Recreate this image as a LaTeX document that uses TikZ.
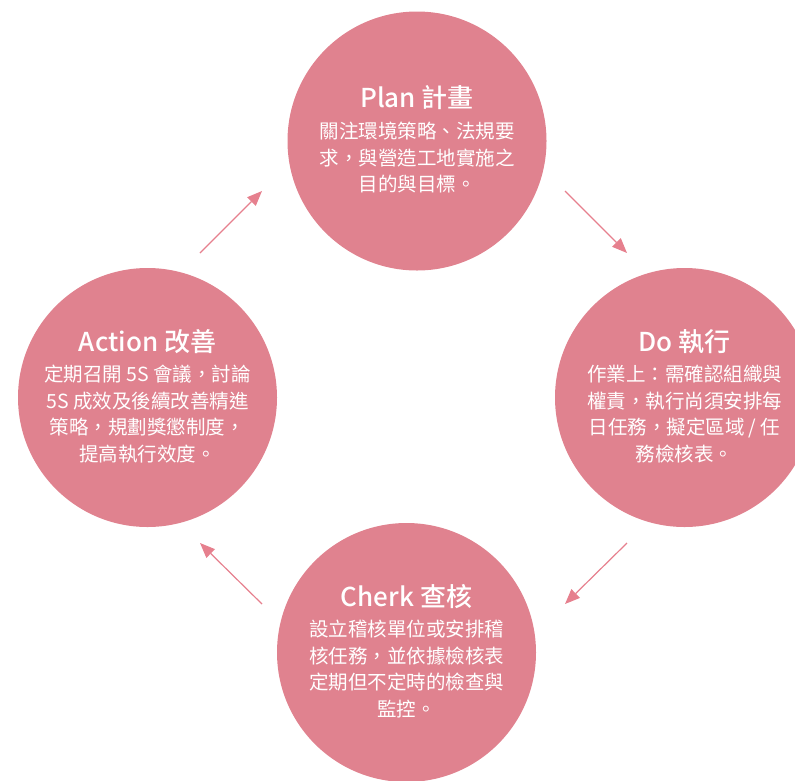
\documentclass[tikz,border=0pt]{standalone}
\usepackage{fontspec}
\setmainfont{Noto Sans CJK TC}
\newfontfamily\ttlfont{Noto Sans CJK TC Medium}
\usetikzlibrary{arrows.meta}
\definecolor{pdca}{HTML}{E0828F}
\definecolor{pdcaarrow}{HTML}{E6808E}
\begin{document}
\begin{tikzpicture}[x=1pt,y=-1pt,
  phase/.style={circle,fill=pdca,minimum size=259pt,inner sep=0pt},
  ttl/.style={text=white,font=\fontsize{26}{31}\selectfont\ttlfont,inner sep=0pt},
  body/.style={text=white,align=center,font=\fontsize{19.5}{26.5}\selectfont,inner sep=0pt},
  flow/.style={draw=pdcaarrow,line width=1.2pt,-{Triangle[length=15pt,width=12pt]}}]
\useasboundingbox (0,0) rectangle (795,780);
\clip (0,0) rectangle (795,780);
% circles
\node[phase] (plan) at (417,141) {};
\node[phase] (do) at (684.5,397.5) {};
\node[phase] (check) at (406.5,652.5) {};
\node[phase] (act) at (147.5,397.5) {};
% texts
\node[ttl] (plant) at (417,98) {Plan 計畫};
\node[body] (planb) at (417,157.5) {關注環境策略、法規要\\求，與營造工地實施之\\目的與目標。};
\node[ttl] (dot) at (684.5,341.25) {Do 執行};
\node[body] (dob) at (684.5,414) {作業上：需確認組織與\\權責，執行尚須安排每\\日任務，擬定區域 / 任\\務檢核表。};
\node[ttl] (checkt) at (406.5,596.25) {Cherk 查核};
\node[body] (checkb) at (406.5,669) {設立稽核單位或安排稽\\核任務，並依據檢核表\\定期但不定時的檢查與\\監控。};
\node[ttl] (actt) at (147.5,341.25) {Action 改善};
\node[body] (actb) at (147.5,414) {定期召開 5S 會議，討論\\5S 成效及後續改善精進\\策略，規劃獎懲制度，\\提高執行效度。};
% arrows
\coordinate (a1s) at (200,253); \coordinate (a1e) at (262,191);
\coordinate (a2s) at (565,191); \coordinate (a2e) at (627,253);
\coordinate (a3s) at (627,543); \coordinate (a3e) at (565,604);
\coordinate (a4s) at (262,604); \coordinate (a4e) at (200,543);
\draw[flow] (a1s) -- (a1e);
\draw[flow] (a2s) -- (a2e);
\draw[flow] (a3s) -- (a3e);
\draw[flow] (a4s) -- (a4e);
\end{tikzpicture}
\end{document}
